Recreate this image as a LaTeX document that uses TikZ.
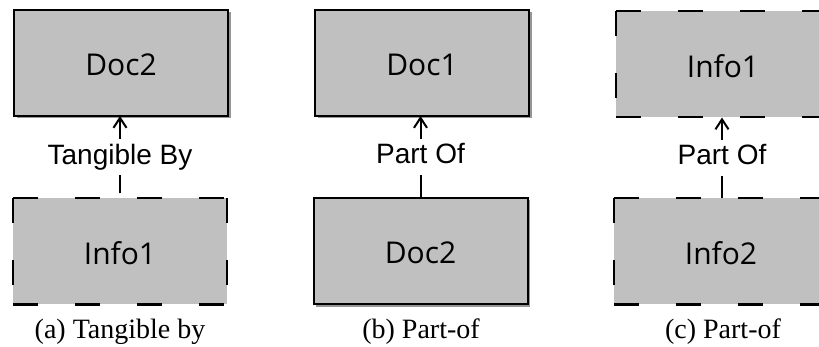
\documentclass[tikz,border=0pt]{standalone}
\usepackage{fontspec}
\setmainfont{Liberation Serif}
\newfontfamily\boxfont{Open Sans}
\newfontfamily\edgefont{Liberation Sans}
\usetikzlibrary{arrows.meta,shadows}

\definecolor{boxgray}{RGB}{192,192,192}
\definecolor{shadegray}{RGB}{150,150,150}

\tikzset{
  entity/.style={rectangle, fill=boxgray, inner sep=0pt, outer sep=0pt,
    minimum width=214pt, minimum height=106pt,
    font=\boxfont\fontsize{30}{36}\selectfont, text height=26pt, text depth=0pt},
  solidbox/.style={entity, draw=black, line width=2pt,
    drop shadow={shadow xshift=2.5pt, shadow yshift=-2.5pt, fill=shadegray, opacity=1}},
  dashbox/.style={entity},
  dashedge/.style={line width=2pt, dash pattern=on 25pt off 37pt},
  conn/.style={line width=2pt, -{Straight Barb[length=10pt,width=13pt,line width=2pt]}},
  relname/.style={fill=white, inner sep=5pt, text height=20pt, text depth=6pt,
    font=\edgefont\fontsize{28}{33}\selectfont},
  caption/.style={anchor=base, font=\fontsize{28}{33}\selectfont}
}

% dashed outline of a node, each side dashed from its own corner
\newcommand{\dashoutline}[1]{%
  \draw[dashedge] (#1.north west) -- (#1.north east);
  \draw[dashedge] (#1.south west) -- (#1.south east);
  \draw[dashedge] (#1.north west) -- (#1.south west);
  \draw[dashedge] (#1.north east) -- (#1.south east);
}

\begin{document}
\begin{tikzpicture}[x=1pt, y=-1pt]
  \useasboundingbox (0,0) rectangle (819,347);

  % (a) Tangible by
  \node[solidbox] (aDoc) at (121,63) {Doc2};
  \node[dashbox] (aInfo) at (120,251.5) {Info1};
  \dashoutline{aInfo}
  \draw[conn, dash pattern=on 0pt off 5pt on 300pt] (aInfo.north) -- node[relname] (aRel) {Tangible By} (aInfo.north |- aDoc.south);
  \node[caption] (aCap) at (120,338) {(a) Tangible by};

  % (b) Part-of
  \node[solidbox] (bDoc1) at (422,63) {Doc1};
  \node[solidbox] (bDoc2) at (420.5,251) {Doc2};
  \draw[conn] (bDoc2.north) -- node[relname] (bRel) {Part Of} (bDoc2.north |- bDoc1.south);
  \node[caption] (bCap) at (421,338) {(b) Part-of};

  % (c) Part-of
  \node[dashbox] (cInfo1) at (723,64.5) {Info1};
  \dashoutline{cInfo1}
  \node[dashbox] (cInfo2) at (721,251.5) {Info2};
  \dashoutline{cInfo2}
  \draw[conn] (722,198.5) -- node[relname] (cRel) {Part Of} (722,117.5);
  \node[caption] (cCap) at (723,338) {(c) Part-of};
\end{tikzpicture}
\end{document}
